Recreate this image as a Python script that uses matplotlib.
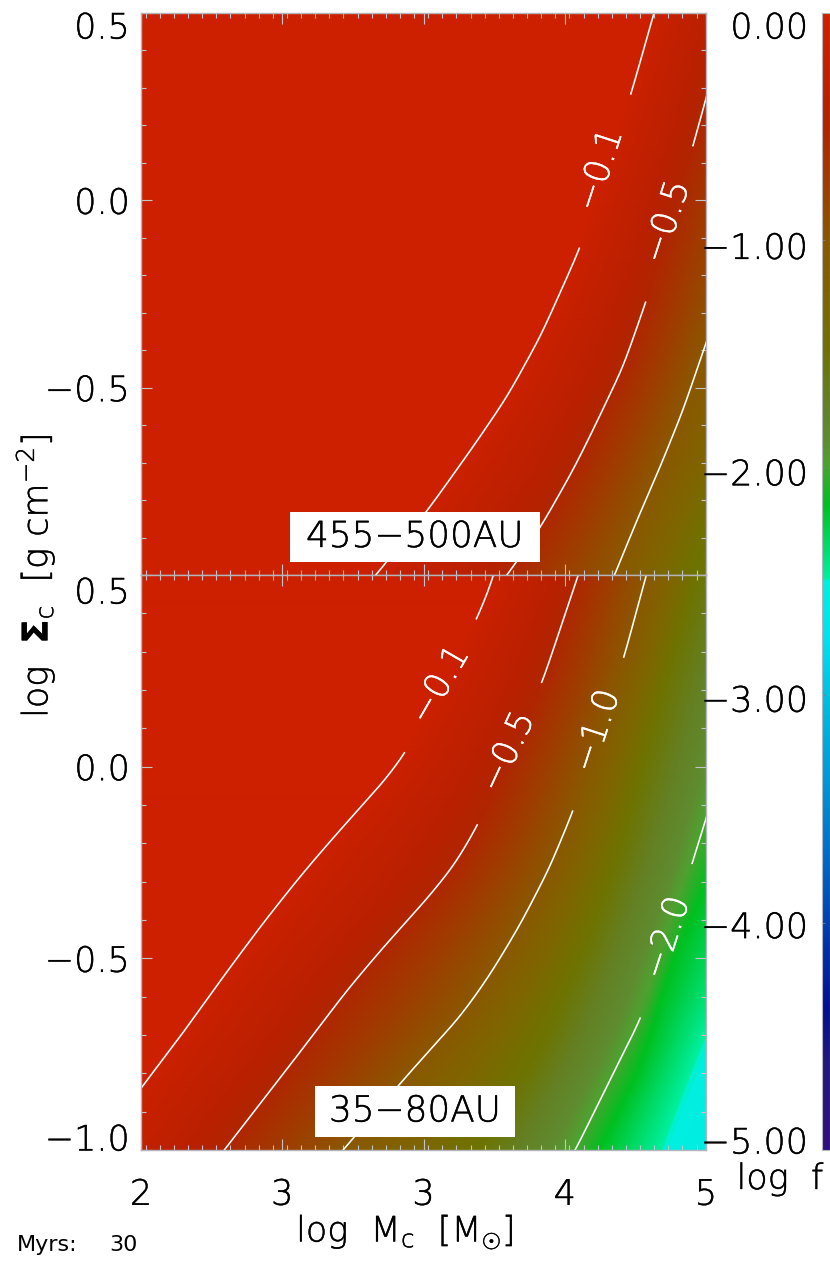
import numpy as np
import matplotlib
matplotlib.use("Agg")
import matplotlib.pyplot as plt
from matplotlib import font_manager as fm
from matplotlib import patheffects as pe
from matplotlib.colors import LinearSegmentedColormap
from matplotlib.patches import Rectangle
from matplotlib.ticker import MultipleLocator
from matplotlib.transforms import ScaledTranslation

W, H = 830, 1278
names = {(f.name, f.weight if isinstance(f.weight, int) else 400) for f in fm.fontManager.ttflist}
LIGHT_FAMILY, LIGHT_WEIGHT = "DejaVu Sans", 400
for fam, wt in [("DejaVu Sans", 200), ("Lato", 300), ("Roboto", 300)]:
    if any(n == fam and w == wt for n, w in names):
        LIGHT_FAMILY, LIGHT_WEIGHT = fam, wt
        break
plt.rcParams["font.family"] = [LIGHT_FAMILY, "DejaVu Sans"]
plt.rcParams["font.weight"] = LIGHT_WEIGHT
plt.rcParams["mathtext.fontset"] = "custom"
plt.rcParams["mathtext.rm"] = f"{LIGHT_FAMILY}:weight={LIGHT_WEIGHT}"
plt.rcParams["mathtext.bf"] = "DejaVu Sans:bold"
plt.rcParams["mathtext.it"] = f"{LIGHT_FAMILY}:weight={LIGHT_WEIGHT}"
plt.rcParams["mathtext.default"] = "rm"

# ---- data -----------------------------------------------------------------
cmap_values = [0, -0.38, -0.5, -0.75, -1.0, -1.26, -1.48, -1.7, -1.88, -1.97, -2.16, -2.32, -2.485,
               -2.495, -2.76, -3.0, -3.37, -3.68, -4.12, -4.38, -4.6, -5.0]
cmap_colors = ["#D02000", "#BA2000", "#B02600", "#9E3E00", "#8A5800", "#7E6600", "#6E7300", "#648024",
               "#5F8C30", "#50A030", "#00C020", "#00D860", "#00F0A0", "#00F0E0", "#00E0F0",
               "#00C0E0", "#0098D8", "#0070C8", "#0030A8", "#001090", "#201880", "#301080"]

x_ticks = [2, 2.75, 3.5, 4.25, 5]
x_labels = ["2", "3", "3", "4", "5"]
y_ticks = [-1.0, -0.5, 0.0, 0.5]
y_labels_top = ["", "\u22120.5", "0.0", "0.5"]
y_labels_bottom = ["\u22121.0", "\u22120.5", "0.0", "0.5"]
cb_ticks = [0, -1, -2, -3, -4, -5]
cb_labels = ["0.00", "\u22121.00", "\u22122.00", "\u22123.00", "\u22124.00", "\u22125.00"]

# isolines of log f: x (log Mc) against y (log Sigma), upper panel
top_levels = [-0.1, -0.5, -1.0, -1.5]
top_x = [
    [4.78, 4.724, 4.602, 4.331, 4.225, 4.119, 3.943, 3.763, 3.524, 3.253, 3.08],
    [5.18, 5.0, 4.931, 4.681, 4.559, 4.400, 4.294, 4.119, 3.949, 3.79],
    [5.65, 5.26, 5.0, 4.878, 4.756, 4.634, 4.517, 4.43],
    [6.5, 5.9, 5.5, 5.1, 4.94, 4.85],
]
top_y = [
    [0.6, 0.5, 0.284, -0.127, -0.247, -0.365, -0.525, -0.658, -0.826, -0.997, -1.1],
    [0.6, 0.273, 0.145, -0.271, -0.445, -0.613, -0.720, -0.875, -0.997, -1.1],
    [0.6, 0.0, -0.381, -0.560, -0.712, -0.853, -0.997, -1.1],
    [0.6, 0.0, -0.4, -0.8, -0.997, -1.1],
]
# isolines of log f, lower panel
bot_levels = [-0.1, -0.5, -1.0, -1.5, -2.0, -2.16, -2.49, -2.6]
bot_x = [
    [3.92, 3.874, 3.784, 3.407, 3.296, 3.057, 2.860, 2.648, 2.435, 2.207, 2.005, 1.60],
    [4.39, 4.320, 4.129, 3.789, 3.657, 3.481, 3.306, 3.094, 2.881, 2.648, 2.446, 2.29],
    [4.74, 4.681, 4.565, 4.294, 4.166, 4.012, 3.853, 3.694, 3.519, 3.359, 3.078, 2.90],
    [5.02, 4.952, 4.809, 4.666, 4.527, 4.358, 4.119, 3.800, 3.63],
    [5.45, 5.09, 5.0, 4.926, 4.655, 4.490, 4.310, 4.19],
    [5.6, 5.0, 4.825, 4.650, 4.437, 4.36],
    [6.5, 5.0, 4.766, 4.70],
    [7.0, 5.2],
]
bot_y = [
    [0.6, 0.497, 0.385, 0.038, -0.035, -0.165, -0.277, -0.408, -0.549, -0.705, -0.836, -1.1],
    [0.6, 0.497, 0.218, -0.152, -0.262, -0.366, -0.460, -0.583, -0.721, -0.870, -0.997, -1.1],
    [0.6, 0.497, 0.286, -0.116, -0.267, -0.413, -0.543, -0.653, -0.747, -0.836, -0.997, -1.1],
    [0.6, 0.487, 0.252, -0.009, -0.251, -0.478, -0.739, -1.0, -1.1],
    [0.6, 0.0, -0.134, -0.254, -0.656, -0.817, -0.997, -1.1],
    [0.6, -0.303, -0.504, -0.783, -0.997, -1.1],
    [0.6, -0.700, -0.997, -1.1],
    [0.6, -1.1],
]

# drawn contours: level, index of isoline, gap in y kept free for the label,
# label centre (x, y) and label angle
top_lines = [(-0.1, 0, (-0.127, 0.284), "\u22120.1", (4.437, 0.081), 72),
             (-0.5, 1, (-0.271, 0.145), "\u22120.5", (4.793, -0.058), 72),
             (-1.0, 2, None, None, None, None)]
bot_lines = [(-0.1, 0, (0.038, 0.385), "\u22120.1", (3.588, 0.213), 60),
             (-0.5, 1, (-0.152, 0.218), "\u22120.5", (3.949, 0.038), 65),
             (-1.0, 2, (-0.116, 0.286), "\u22121.0", (4.421, 0.093), 72),
             (-2.0, 4, (-0.656, -0.254), "\u22122.0", (4.793, -0.447), 72)]
# ---------------------------------------------------------------------------

pos = [(v + 5) / 5 for v in cmap_values]
cmap = LinearSegmentedColormap.from_list(
    "logf", sorted(zip(pos, cmap_colors), key=lambda p: p[0]), N=1024)

FS = 25.2
fig = plt.figure(figsize=(W / 100, H / 100), dpi=100)


def rect(l, t, r, b):
    return [l / W, 1 - b / H, (r - l) / W, (b - t) / H]


def px_shift(dy):
    return ScaledTranslation(0, -dy / 100, fig.dpi_scale_trans)


Y = np.linspace(-1.1, 0.6, 851)
X = np.linspace(2, 5, 566)


def soften(c, n=41):
    kernel = np.ones(n) / n
    p = np.pad(c, n, mode="reflect", reflect_type="odd")
    return np.convolve(p, kernel, mode="same")[n:-n]


def isolines(xs, ys):
    out = []
    for ix, iy in zip(xs, ys):
        c = np.interp(Y, iy[::-1], ix[::-1])
        out.append(soften(soften(c)))
    return np.array(out)


def panel(ax, xs, ys, levels, lines, labels, offsets, name, box):
    iso = isolines(xs, ys)
    field = np.empty((Y.size, X.size))
    for j in range(Y.size):
        field[j] = np.interp(X, np.maximum.accumulate(iso[:, j]), levels, left=-0.04)
    keep = (Y >= -1.0) & (Y <= 0.5)
    ax.imshow(field[keep], extent=[2, 5, -1.0, 0.5], origin="lower", aspect="auto",
              cmap=cmap, vmin=-5, vmax=0, interpolation="bilinear", zorder=1)
    for level, i, gap, text, c, ang in lines:
        line = iso[i].copy()
        if gap is not None:
            line[(Y > gap[0]) & (Y < gap[1])] = np.nan
        ax.plot(line, Y, color="white", lw=1.15, zorder=2)
        if text:
            t_ = ax.text(c[0], c[1], text, color="white", fontsize=FS, rotation=ang,
                         rotation_mode="anchor", ha="center", va="center", zorder=3)
            t_.set_path_effects([pe.withStroke(linewidth=0.3, foreground="white")])
    ax.set_xlim(2, 5)
    ax.set_ylim(-1.0, 0.5)
    ax.set_xticks(x_ticks)
    ax.set_yticks(y_ticks)
    ax.set_yticklabels(labels, fontsize=FS)
    ax.xaxis.set_minor_locator(MultipleLocator(0.075))
    ax.yaxis.set_minor_locator(MultipleLocator(0.1))
    ax.tick_params(which="major", direction="in", top=True, right=True, length=8,
                   width=0.8, color="#c4c4cc")
    ax.tick_params(which="minor", direction="in", top=True, right=True, length=3.8,
                   width=0.8, color="#c4c4cc")
    ax.tick_params(axis="y", which="major", pad=8, labelsize=FS)
    for s in ax.spines.values():
        s.set_color("#b4b4bc")
        s.set_linewidth(1.0)
    for lab, dy in zip(ax.get_yticklabels(), offsets):
        lab.set_transform(lab.get_transform() + px_shift(dy))
    l, t, r, b = box
    fig.add_artist(Rectangle((l / W, 1 - b / H), (r - l) / W, (b - t) / H, transform=fig.transFigure,
                             facecolor="white", edgecolor="none", zorder=5))
    fig.text((l + r) / 2 / W, 1 - (t + b) / 2 / H, name, fontsize=FS + 0.6, ha="center", va="center",
             color="black", zorder=6)


ax1 = fig.add_axes(rect(141, 13, 706, 575))
ax2 = fig.add_axes(rect(141, 575, 706, 1150))
panel(ax1, top_x, top_y, top_levels, top_lines, y_labels_top, [0, 0, 0, 12],
      "455\u2212500AU", (290, 512, 540, 562))
panel(ax2, bot_x, bot_y, bot_levels, bot_lines, y_labels_bottom, [-13, 0, 0, 15],
      "35\u221280AU", (315, 1086, 515, 1137))
ax1.tick_params(axis="x", which="both", labelbottom=False)
ax2.set_xticklabels(x_labels, fontsize=FS)
ax2.tick_params(axis="x", which="major", pad=20, labelsize=FS)

cax = fig.add_axes(rect(822, 13, 830, 1150))
grad = np.linspace(-5, 0, 512).reshape(-1, 1)
cax.imshow(grad, extent=[0, 1, -5, 0], origin="lower", aspect="auto", cmap=cmap, vmin=-5, vmax=0)
cax.set_xticks([])
cax.set_yticks(cb_ticks)
cax.set_yticklabels(cb_labels, fontsize=FS)
cax.tick_params(axis="y", direction="in", length=2, width=0.6, color="#808088", pad=10, labelsize=FS)
for s in cax.spines.values():
    s.set_color("#b4b4bc")
    s.set_linewidth(0.8)
for lab, dy in zip(cax.get_yticklabels(), [12, 5, 4, 3, 2, -10]):
    lab.set_transform(lab.get_transform() + px_shift(dy))

texts = [
    fig.text(405 / W, 1 - 1232 / H, r"log  M$_{\mathrm{c}}$  [M$_{\odot}$]", fontsize=FS,
             ha="center", va="center"),
    fig.text(35 / W, 1 - 576 / H, r"log  $\mathbf{\Sigma}_{\mathrm{c}}$  [g cm$^{-2}$]", fontsize=FS,
             rotation=90, ha="center", va="center"),
    fig.text(780 / W, 1 - 1179 / H, "log  f", fontsize=FS, ha="center", va="center"),
]
for a in (ax1, ax2, cax):
    texts += a.get_xticklabels() + a.get_yticklabels()
texts += [c for c in fig.texts if c not in texts]
for t_ in texts:
    t_.set_path_effects([pe.withStroke(linewidth=0.3, foreground="black")])

fig.text(17 / W, 1 - 1245 / H, "Myrs:", fontsize=16, family="DejaVu Sans", weight="normal",
         ha="left", va="center")
fig.text(138 / W, 1 - 1245 / H, "30", fontsize=16, family="DejaVu Sans", weight="normal",
         ha="right", va="center")

fig.savefig("out.png", dpi=100)
